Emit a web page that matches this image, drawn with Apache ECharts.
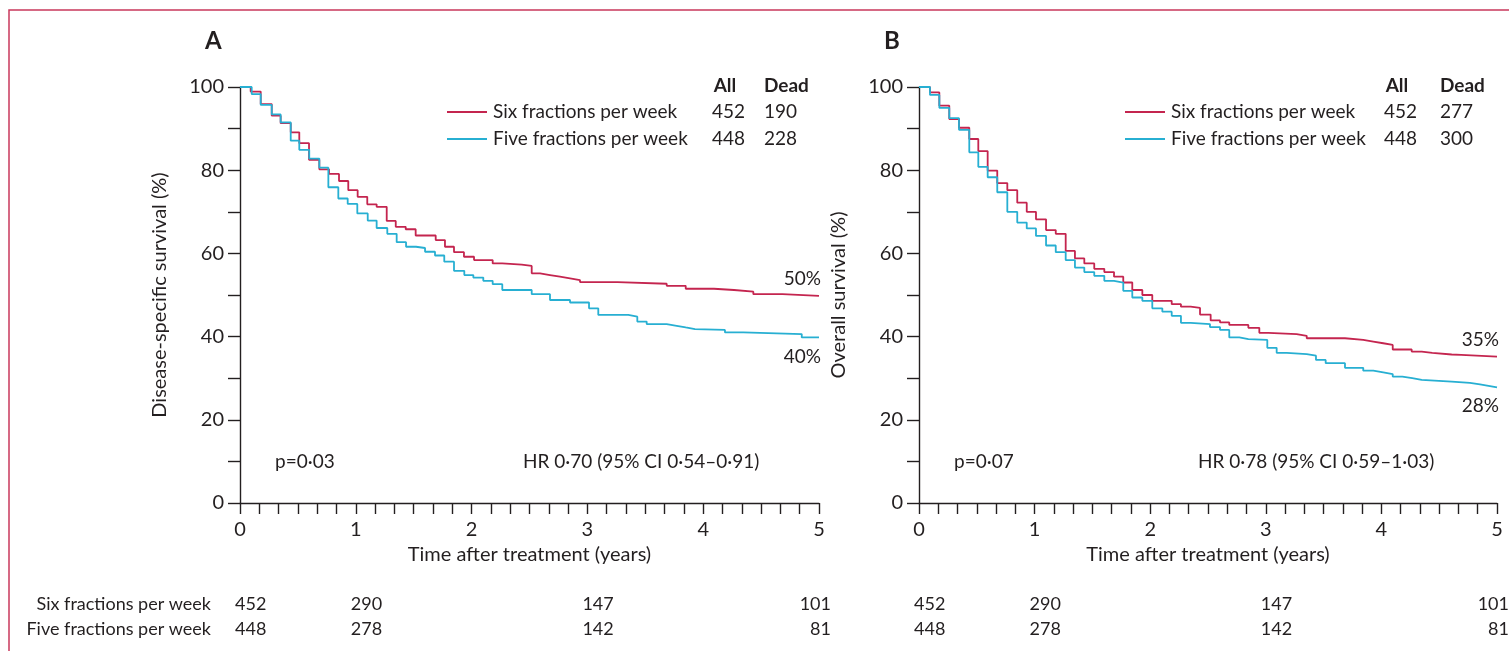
<!DOCTYPE html>
<html>
<head>
<meta charset="utf-8">
<script src="https://cdn.jsdelivr.net/npm/echarts@6/dist/echarts.min.js"></script>
<style>
html,body{margin:0;padding:0;background:#fff;}
#c{width:1509px;height:651px;}
</style>
</head>
<body>
<div id="c"></div>
<script>
// ---------- data ----------
const groupNames = ['Six fractions per week', 'Five fractions per week'];
const allN = [452, 448];
const deadA = [190, 228];
const deadB = [277, 300];

const tA6 = [0,0.092,0.179,0.274,0.351,0.438,0.512,0.596,0.685,0.769,0.855,0.935,1.016,1.099,1.180,1.267,1.345,1.431,1.517,1.690,1.770,1.848,1.934,2.021,2.182,2.265,2.433,2.519,2.591,2.677,2.763,2.850,2.936,3.261,3.685,3.849,4.093,4.266,4.433,4.684,5.0];
const sA6 = [100,98.9,95.9,93.1,91.3,89.1,86.5,82.5,80.2,79.1,77.4,75.2,73.6,71.8,71.2,67.8,66.4,65.8,64.3,63.2,61.6,60.3,59.2,58.4,57.6,57.3,57.0,55.2,54.8,54.4,54.0,53.6,53.1,52.7,52.2,51.5,51.2,50.8,50.2,49.8,49.8];

const tA5 = [0,0.101,0.179,0.274,0.351,0.438,0.512,0.598,0.685,0.763,0.849,0.930,1.013,1.103,1.180,1.272,1.353,1.434,1.520,1.598,1.684,1.764,1.848,1.937,2.015,2.101,2.182,2.265,2.519,2.677,2.850,3.014,3.094,3.353,3.431,3.512,3.685,3.771,3.849,3.929,4.188,4.346,4.851,5.0];
const sA5 = [100,98.3,95.7,93.4,91.5,87.1,84.9,82.8,80.6,75.9,73.2,71.9,69.6,67.9,66.1,64.7,62.7,61.6,61.3,60.4,59.5,58.0,55.8,54.8,54.2,53.4,52.6,51.2,50.2,48.8,48.2,46.8,45.2,44.8,43.6,43.0,42.6,42.2,41.8,41.6,41.0,40.6,39.8,39.8];

const tB6 = [0,0.095,0.176,0.262,0.346,0.435,0.513,0.594,0.677,0.764,0.850,0.932,1.012,1.099,1.183,1.269,1.349,1.430,1.516,1.603,1.687,1.767,1.845,1.932,2.018,2.186,2.266,2.350,2.431,2.523,2.604,2.684,2.849,2.944,3.022,3.267,3.354,3.685,3.843,3.930,4.016,4.098,4.262,4.349,4.440,4.608,4.689,5.0];
const sB6 = [100,98.7,95.5,92.3,90.2,87.5,84.6,79.9,76.9,75.2,72.2,70.0,68.2,65.6,64.7,60.6,58.8,57.6,56.3,55.5,54.4,53.0,51.2,50.0,48.6,47.8,47.2,46.9,45.3,43.9,43.4,42.8,42.1,40.9,40.6,40.2,39.6,39.2,38.8,38.4,38.0,36.9,36.4,36.1,35.7,35.6,35.2,35.2];

const tB5 = [0,0.095,0.176,0.262,0.346,0.435,0.513,0.594,0.677,0.764,0.850,0.932,1.012,1.099,1.183,1.269,1.349,1.430,1.516,1.603,1.687,1.767,1.845,1.932,2.018,2.105,2.186,2.266,2.350,2.517,2.604,2.684,2.771,2.849,3.013,3.094,3.181,3.354,3.434,3.518,3.685,3.843,3.930,4.016,4.098,4.181,4.267,4.349,4.608,4.766,4.853,4.939,5.0];
const sB5 = [100,98.1,95.0,92.5,89.7,84.3,80.8,78.3,74.7,70.0,67.4,66.0,64.2,61.9,60.3,58.4,56.6,55.5,54.6,53.4,53.0,51.0,49.4,48.6,46.8,46.0,45.0,43.3,43.0,42.3,41.6,39.8,39.4,39.2,37.3,36.1,35.8,35.4,34.4,33.6,32.5,31.8,31.4,31.0,30.4,30.0,29.6,29.2,28.9,28.5,28.1,27.8,27.8];

const riskTimes = [0, 1, 3, 5];
const riskSix = [452, 290, 147, 101];
const riskFive = [448, 278, 142, 81];

const endLabelsA = ['50%', '40%'];
const endLabelsB = ['35%', '28%'];
const statsA = ['p=0·03', 'HR 0·70 (95% CI 0·54–0·91)'];
const statsB = ['p=0·07', 'HR 0·78 (95% CI 0·59–1·03)'];
const yNames = ['Disease-specific survival (%)', 'Overall survival (%)'];
const xName = 'Time after treatment (years)';
const panelLetters = ['A', 'B'];

// ---------- style ----------
const FONT = 'Lato';
const INK = '#231f20';
const RED = '#c4254f';
const CYAN = '#27afd2';
const FS_TICK = 20;
const FS_NAME = 20;
const FS_TXT = 19;
const FS_TAB = 18;

function zip(t, s) { return t.map((v, i) => [v, s[i]]); }

const chart = echarts.init(document.getElementById('c'), null, {renderer: 'canvas'});

function xAx(gi) {
  return {
    type: 'value', gridIndex: gi, min: 0, max: 5, interval: 1,
    name: xName, nameLocation: 'middle', nameGap: 41,
    nameTextStyle: {fontFamily: FONT, fontSize: FS_NAME, color: INK},
    axisLine: {show: true, onZero: false, lineStyle: {color: INK, width: 1.4}},
    axisTick: {show: true, length: 11, lineStyle: {color: INK, width: 1.4}},
    minorTick: {show: true, splitNumber: 6, length: 11, lineStyle: {color: INK, width: 1.4}},
    axisLabel: {fontFamily: FONT, fontSize: FS_TICK, color: INK, margin: 17},
    splitLine: {show: false}
  };
}
function yAx(gi) {
  return {
    type: 'value', gridIndex: gi, min: 0, max: 100, interval: 10,
    name: yNames[gi], nameLocation: 'middle', nameGap: 70, nameRotate: 90,
    nameTextStyle: {fontFamily: FONT, fontSize: FS_NAME, color: INK},
    axisLine: {show: true, lineStyle: {color: INK, width: 1.4}},
    axisTick: {show: true, length: 12, lineStyle: {color: INK, width: 1.4}},
    axisLabel: {fontFamily: FONT, fontSize: FS_TICK, color: INK, margin: 16,
      formatter: v => (v % 20 === 0 ? String(v) : '')},
    splitLine: {show: false}
  };
}
function line(gi, name, data, color) {
  return {
    type: 'line', name: name, xAxisIndex: gi, yAxisIndex: gi, step: 'end',
    data: data, showSymbol: false, symbol: 'none', animation: false,
    lineStyle: {color: color, width: 1.8}, itemStyle: {color: color}
  };
}

chart.setOption({
  animation: false,
  grid: [
    {left: 240, top: 87, width: 579, height: 416},
    {left: 919, top: 87, width: 578, height: 416}
  ],
  xAxis: [xAx(0), xAx(1)],
  yAxis: [yAx(0), yAx(1)],
  series: [
    line(0, groupNames[0], zip(tA6, sA6), RED),
    line(0, groupNames[1], zip(tA5, sA5), CYAN),
    line(1, groupNames[0], zip(tB6, sB6), RED),
    line(1, groupNames[1], zip(tB5, sB5), CYAN)
  ]
});

// ---------- annotations built from axes ----------
const g = [];
function txt(x, y, text, opt) {
  opt = opt || {};
  g.push({type: 'text', x: x, y: y, silent: true, style: {
    text: text, fill: INK, font: (opt.bold ? 'bold ' : '') + (opt.size || FS_TXT) + 'px ' + FONT,
    textAlign: opt.align || 'left', textVerticalAlign: 'middle'
  }});
}
function px(gi, t, s) { return chart.convertToPixel({gridIndex: gi}, [t, s]); }

// frame
g.push({type: 'rect', silent: true, shape: {x: 9, y: 10, width: 1600, height: 700},
  style: {fill: 'none', stroke: '#c9385c', lineWidth: 1.5}});

const deads = [deadA, deadB];
const ends = [endLabelsA, endLabelsB];
const stats = [statsA, statsB];
const lastS = [[sA6[sA6.length - 1], sA5[sA5.length - 1]], [sB6[sB6.length - 1], sB5[sB5.length - 1]]];
const colors = [RED, CYAN];

[0, 1].forEach(gi => {
  const o = px(gi, 0, 100);
  const x5 = px(gi, 5, 0)[0];
  const y0 = px(gi, 0, 0)[1];
  // panel letter
  txt(o[0] - 35, 41, panelLetters[gi], {bold: true, size: 24});
  // legend table
  const lx = o[0] + (gi === 0 ? 207 : 206);
  const colAll = o[0] + (gi === 0 ? 472 : 465);
  const colDead = o[0] + (gi === 0 ? 524 : 521);
  txt(colAll + 13, 86, 'All', {bold: true, align: 'center'});
  txt(colDead, 86, 'Dead', {bold: true});
  [0, 1].forEach(k => {
    const yy = 112 + k * 27;
    g.push({type: 'line', silent: true, shape: {x1: lx, y1: yy, x2: lx + 40, y2: yy},
      style: {stroke: colors[k], lineWidth: 1.8}});
    txt(lx + 46, yy, groupNames[k]);
    txt(colAll, yy, String(allN[k]));
    txt(colDead, yy, String(deads[gi][k]));
  });
  // end labels
  txt(x5 + 2, px(gi, 5, lastS[gi][0])[1] - 17, ends[gi][0], {align: 'right'});
  txt(x5 + 2, px(gi, 5, lastS[gi][1])[1] + 19, ends[gi][1], {align: 'right'});
  // stats
  txt(o[0] + 35, y0 - 41, stats[gi][0]);
  txt(o[0] + (gi === 0 ? 283 : 279), y0 - 41, stats[gi][1]);
  // at-risk numbers
  riskTimes.forEach((t, i) => {
    const xx = px(gi, t, 0)[0];
    const last = i === riskTimes.length - 1;
    const ax = last ? xx + 12 : xx - 5;
    const al = last ? 'right' : 'left';
    txt(ax, 604, String(riskSix[i]), {align: al, size: FS_TAB});
    txt(ax, 629, String(riskFive[i]), {align: al, size: FS_TAB});
  });
});
txt(211, 604, groupNames[0], {align: 'right', size: FS_TAB});
txt(211, 629, groupNames[1], {align: 'right', size: FS_TAB});

chart.setOption({graphic: g});
</script>
</body>
</html>
